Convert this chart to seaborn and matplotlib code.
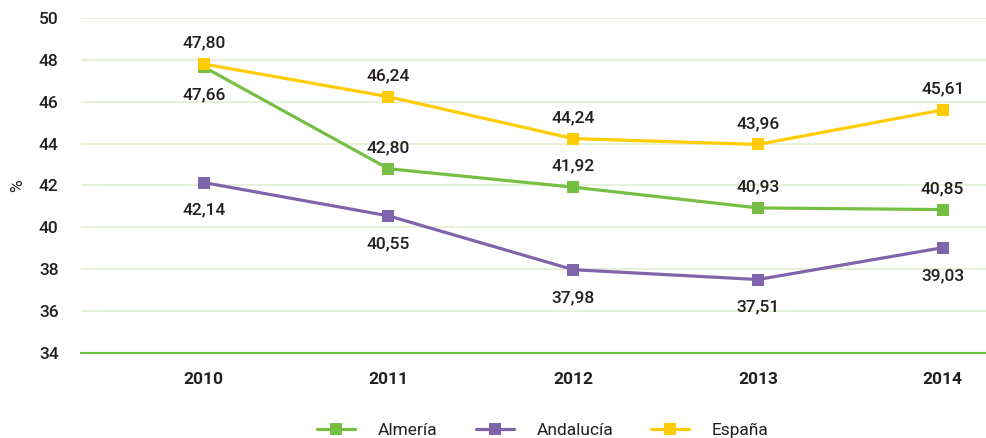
import pandas as pd
import matplotlib.pyplot as plt
import seaborn as sns

years = ["2010", "2011", "2012", "2013", "2014"]
almeria = [47.66, 42.80, 41.92, 40.93, 40.85]
andalucia = [42.14, 40.55, 37.98, 37.51, 39.03]
espana = [47.80, 46.24, 44.24, 43.96, 45.61]
series_names = ["Almería", "Andalucía", "España"]
colors = ["#77BF44", "#8064AB", "#FFCC00"]
y_ticks = [34, 36, 38, 40, 42, 44, 46, 48, 50]

# label placement per series: +1 above, -1 below
label_side = {
    "Almería": [-1, 1, 1, 1, 1],
    "Andalucía": [-1, -1, -1, -1, -1],
    "España": [1, 1, 1, 1, 1],
}


def main():
    df = pd.DataFrame({
        "year": years * 3,
        "value": almeria + andalucia + espana,
        "serie": [s for s in series_names for _ in years],
    })

    sns.set_style("white")
    plt.rcParams["font.family"] = ["Roboto", "DejaVu Sans"]
    text_color = "#231F20"
    fs = 12.5

    fig = plt.figure(figsize=(9.87, 4.38), dpi=100)
    ax = fig.add_axes([0.082, 0.194, 0.918, 0.765])

    sns.lineplot(data=df, x="year", y="value", hue="serie", style="serie",
                 palette=colors, markers=["s", "s", "s"], dashes=False,
                 markersize=8.5, linewidth=2.3, markeredgewidth=0,
                 sort=False, ax=ax, legend=False)

    for name, vals in zip(series_names, [almeria, andalucia, espana]):
        for i, v in enumerate(vals):
            side = label_side[name][i]
            off = 15 if side > 0 else -20
            ax.annotate(f"{v:.2f}".replace(".", ","), (i, v),
                        xytext=(0, off), textcoords="offset points",
                        ha="center", va="center", fontsize=fs,
                        color=text_color, fontweight="medium")

    ax.set_ylim(34, 50)
    ax.set_xlim(-0.665, 4.24)
    ax.set_yticks(y_ticks)
    ax.yaxis.grid(True, color="#E0EFD4", linewidth=1.2)
    ax.set_axisbelow(True)
    for sp in ["top", "right", "left"]:
        ax.spines[sp].set_visible(False)
    ax.spines["bottom"].set_color("#6CBF3F")
    ax.spines["bottom"].set_linewidth(1.5)
    ax.tick_params(axis="both", length=0, labelsize=fs, colors=text_color)
    ax.tick_params(axis="y", pad=16)
    ax.tick_params(axis="x", pad=14)
    for t in ax.get_xticklabels():
        t.set_fontweight("bold")
    for t in ax.get_yticklabels():
        t.set_fontweight("medium")
    ax.set_xlabel("")
    ax.set_ylabel("%", fontsize=fs, color=text_color)
    ax.yaxis.set_label_coords(-0.062, 0.5)

    handles = [plt.Line2D([], [], color=c, marker="s", markersize=8.5,
                          markeredgewidth=0, linewidth=2.3) for c in colors]
    fig.legend(handles, series_names, loc="center", bbox_to_anchor=(0.55, 0.018),
               ncol=3, frameon=False, fontsize=fs, handlelength=2.2,
               handletextpad=1.3, columnspacing=2.2, labelcolor=text_color)

    fig.savefig("out.png", dpi=100)
    plt.close(fig)


if __name__ == "__main__":
    main()
